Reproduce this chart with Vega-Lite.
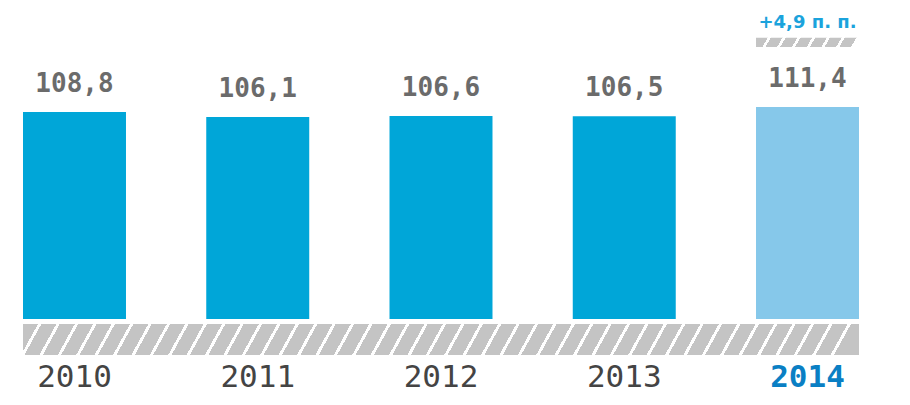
{
  "$schema": "https://vega.github.io/schema/vega-lite/v6.json",
  "width": 836,
  "height": 405,
  "autosize": "none",
  "padding": {"left": 23, "right": 51, "top": 0, "bottom": 0},
  "background": "white",
  "data": {
    "values": [
      {"year": "2010", "value": 108.8, "change": ""},
      {"year": "2011", "value": 106.1, "change": ""},
      {"year": "2012", "value": 106.6, "change": ""},
      {"year": "2013", "value": 106.5, "change": ""},
      {"year": "2014", "value": 111.4, "change": "+4,9 п. п."}
    ]
  },
  "transform": [
    {"calculate": "replace(format(datum.value, '.1f'), '.', ',')", "as": "label"}
  ],
  "layer": [
    {
      "mark": {"type": "bar"},
      "encoding": {
        "x": {"field": "year", "type": "ordinal", "axis": null,
              "scale": {"paddingInner": 0.438, "paddingOuter": 0}},
        "y": {"field": "value", "type": "quantitative", "axis": null,
              "scale": {"domain": [-45.2, 167.6], "nice": false, "zero": false}},
        "y2": {"datum": 0},
        "color": {
          "condition": {"test": "datum.year === '2014'", "value": "#86c8ea"},
          "value": "#00a6d8"
        }
      }
    },
    {
      "transform": [{"filter": "datum.year === '2010'"}],
      "mark": {
        "type": "rect",
        "fill": {
          "gradient": "linear", "x1": 0, "y1": 0, "x2": 1, "y2": 0.0204,
          "stops": [
            {"offset": 0, "color": "#c4c4c4"},
            {"offset": 0.018, "color": "#c4c4c4"}, {"offset": 0.018, "color": "#ffffff"}, {"offset": 0.022, "color": "#ffffff"}, {"offset": 0.022, "color": "#c4c4c4"},
            {"offset": 0.040, "color": "#c4c4c4"}, {"offset": 0.040, "color": "#ffffff"}, {"offset": 0.044, "color": "#ffffff"}, {"offset": 0.044, "color": "#c4c4c4"},
            {"offset": 0.062, "color": "#c4c4c4"}, {"offset": 0.062, "color": "#ffffff"}, {"offset": 0.066, "color": "#ffffff"}, {"offset": 0.066, "color": "#c4c4c4"},
            {"offset": 0.084, "color": "#c4c4c4"}, {"offset": 0.084, "color": "#ffffff"}, {"offset": 0.088, "color": "#ffffff"}, {"offset": 0.088, "color": "#c4c4c4"},
            {"offset": 0.106, "color": "#c4c4c4"}, {"offset": 0.106, "color": "#ffffff"}, {"offset": 0.110, "color": "#ffffff"}, {"offset": 0.110, "color": "#c4c4c4"},
            {"offset": 0.128, "color": "#c4c4c4"}, {"offset": 0.128, "color": "#ffffff"}, {"offset": 0.132, "color": "#ffffff"}, {"offset": 0.132, "color": "#c4c4c4"},
            {"offset": 0.150, "color": "#c4c4c4"}, {"offset": 0.150, "color": "#ffffff"}, {"offset": 0.154, "color": "#ffffff"}, {"offset": 0.154, "color": "#c4c4c4"},
            {"offset": 0.172, "color": "#c4c4c4"}, {"offset": 0.172, "color": "#ffffff"}, {"offset": 0.176, "color": "#ffffff"}, {"offset": 0.176, "color": "#c4c4c4"},
            {"offset": 0.194, "color": "#c4c4c4"}, {"offset": 0.194, "color": "#ffffff"}, {"offset": 0.198, "color": "#ffffff"}, {"offset": 0.198, "color": "#c4c4c4"},
            {"offset": 0.216, "color": "#c4c4c4"}, {"offset": 0.216, "color": "#ffffff"}, {"offset": 0.220, "color": "#ffffff"}, {"offset": 0.220, "color": "#c4c4c4"},
            {"offset": 0.238, "color": "#c4c4c4"}, {"offset": 0.238, "color": "#ffffff"}, {"offset": 0.242, "color": "#ffffff"}, {"offset": 0.242, "color": "#c4c4c4"},
            {"offset": 0.260, "color": "#c4c4c4"}, {"offset": 0.260, "color": "#ffffff"}, {"offset": 0.264, "color": "#ffffff"}, {"offset": 0.264, "color": "#c4c4c4"},
            {"offset": 0.282, "color": "#c4c4c4"}, {"offset": 0.282, "color": "#ffffff"}, {"offset": 0.286, "color": "#ffffff"}, {"offset": 0.286, "color": "#c4c4c4"},
            {"offset": 0.304, "color": "#c4c4c4"}, {"offset": 0.304, "color": "#ffffff"}, {"offset": 0.308, "color": "#ffffff"}, {"offset": 0.308, "color": "#c4c4c4"},
            {"offset": 0.326, "color": "#c4c4c4"}, {"offset": 0.326, "color": "#ffffff"}, {"offset": 0.330, "color": "#ffffff"}, {"offset": 0.330, "color": "#c4c4c4"},
            {"offset": 0.348, "color": "#c4c4c4"}, {"offset": 0.348, "color": "#ffffff"}, {"offset": 0.352, "color": "#ffffff"}, {"offset": 0.352, "color": "#c4c4c4"},
            {"offset": 0.370, "color": "#c4c4c4"}, {"offset": 0.370, "color": "#ffffff"}, {"offset": 0.374, "color": "#ffffff"}, {"offset": 0.374, "color": "#c4c4c4"},
            {"offset": 0.392, "color": "#c4c4c4"}, {"offset": 0.392, "color": "#ffffff"}, {"offset": 0.396, "color": "#ffffff"}, {"offset": 0.396, "color": "#c4c4c4"},
            {"offset": 0.414, "color": "#c4c4c4"}, {"offset": 0.414, "color": "#ffffff"}, {"offset": 0.418, "color": "#ffffff"}, {"offset": 0.418, "color": "#c4c4c4"},
            {"offset": 0.436, "color": "#c4c4c4"}, {"offset": 0.436, "color": "#ffffff"}, {"offset": 0.440, "color": "#ffffff"}, {"offset": 0.440, "color": "#c4c4c4"},
            {"offset": 0.458, "color": "#c4c4c4"}, {"offset": 0.458, "color": "#ffffff"}, {"offset": 0.462, "color": "#ffffff"}, {"offset": 0.462, "color": "#c4c4c4"},
            {"offset": 0.480, "color": "#c4c4c4"}, {"offset": 0.480, "color": "#ffffff"}, {"offset": 0.484, "color": "#ffffff"}, {"offset": 0.484, "color": "#c4c4c4"},
            {"offset": 0.502, "color": "#c4c4c4"}, {"offset": 0.502, "color": "#ffffff"}, {"offset": 0.506, "color": "#ffffff"}, {"offset": 0.506, "color": "#c4c4c4"},
            {"offset": 0.524, "color": "#c4c4c4"}, {"offset": 0.524, "color": "#ffffff"}, {"offset": 0.528, "color": "#ffffff"}, {"offset": 0.528, "color": "#c4c4c4"},
            {"offset": 0.546, "color": "#c4c4c4"}, {"offset": 0.546, "color": "#ffffff"}, {"offset": 0.550, "color": "#ffffff"}, {"offset": 0.550, "color": "#c4c4c4"},
            {"offset": 0.568, "color": "#c4c4c4"}, {"offset": 0.568, "color": "#ffffff"}, {"offset": 0.572, "color": "#ffffff"}, {"offset": 0.572, "color": "#c4c4c4"},
            {"offset": 0.590, "color": "#c4c4c4"}, {"offset": 0.590, "color": "#ffffff"}, {"offset": 0.594, "color": "#ffffff"}, {"offset": 0.594, "color": "#c4c4c4"},
            {"offset": 0.612, "color": "#c4c4c4"}, {"offset": 0.612, "color": "#ffffff"}, {"offset": 0.616, "color": "#ffffff"}, {"offset": 0.616, "color": "#c4c4c4"},
            {"offset": 0.634, "color": "#c4c4c4"}, {"offset": 0.634, "color": "#ffffff"}, {"offset": 0.638, "color": "#ffffff"}, {"offset": 0.638, "color": "#c4c4c4"},
            {"offset": 0.656, "color": "#c4c4c4"}, {"offset": 0.656, "color": "#ffffff"}, {"offset": 0.660, "color": "#ffffff"}, {"offset": 0.660, "color": "#c4c4c4"},
            {"offset": 0.678, "color": "#c4c4c4"}, {"offset": 0.678, "color": "#ffffff"}, {"offset": 0.682, "color": "#ffffff"}, {"offset": 0.682, "color": "#c4c4c4"},
            {"offset": 0.700, "color": "#c4c4c4"}, {"offset": 0.700, "color": "#ffffff"}, {"offset": 0.704, "color": "#ffffff"}, {"offset": 0.704, "color": "#c4c4c4"},
            {"offset": 0.722, "color": "#c4c4c4"}, {"offset": 0.722, "color": "#ffffff"}, {"offset": 0.726, "color": "#ffffff"}, {"offset": 0.726, "color": "#c4c4c4"},
            {"offset": 0.744, "color": "#c4c4c4"}, {"offset": 0.744, "color": "#ffffff"}, {"offset": 0.748, "color": "#ffffff"}, {"offset": 0.748, "color": "#c4c4c4"},
            {"offset": 0.766, "color": "#c4c4c4"}, {"offset": 0.766, "color": "#ffffff"}, {"offset": 0.770, "color": "#ffffff"}, {"offset": 0.770, "color": "#c4c4c4"},
            {"offset": 0.788, "color": "#c4c4c4"}, {"offset": 0.788, "color": "#ffffff"}, {"offset": 0.792, "color": "#ffffff"}, {"offset": 0.792, "color": "#c4c4c4"},
            {"offset": 0.810, "color": "#c4c4c4"}, {"offset": 0.810, "color": "#ffffff"}, {"offset": 0.814, "color": "#ffffff"}, {"offset": 0.814, "color": "#c4c4c4"},
            {"offset": 0.832, "color": "#c4c4c4"}, {"offset": 0.832, "color": "#ffffff"}, {"offset": 0.836, "color": "#ffffff"}, {"offset": 0.836, "color": "#c4c4c4"},
            {"offset": 0.854, "color": "#c4c4c4"}, {"offset": 0.854, "color": "#ffffff"}, {"offset": 0.858, "color": "#ffffff"}, {"offset": 0.858, "color": "#c4c4c4"},
            {"offset": 0.876, "color": "#c4c4c4"}, {"offset": 0.876, "color": "#ffffff"}, {"offset": 0.880, "color": "#ffffff"}, {"offset": 0.880, "color": "#c4c4c4"},
            {"offset": 0.898, "color": "#c4c4c4"}, {"offset": 0.898, "color": "#ffffff"}, {"offset": 0.902, "color": "#ffffff"}, {"offset": 0.902, "color": "#c4c4c4"},
            {"offset": 0.920, "color": "#c4c4c4"}, {"offset": 0.920, "color": "#ffffff"}, {"offset": 0.924, "color": "#ffffff"}, {"offset": 0.924, "color": "#c4c4c4"},
            {"offset": 0.942, "color": "#c4c4c4"}, {"offset": 0.942, "color": "#ffffff"}, {"offset": 0.946, "color": "#ffffff"}, {"offset": 0.946, "color": "#c4c4c4"},
            {"offset": 0.964, "color": "#c4c4c4"}, {"offset": 0.964, "color": "#ffffff"}, {"offset": 0.968, "color": "#ffffff"}, {"offset": 0.968, "color": "#c4c4c4"},
            {"offset": 0.986, "color": "#c4c4c4"}, {"offset": 0.986, "color": "#ffffff"}, {"offset": 0.990, "color": "#ffffff"}, {"offset": 0.990, "color": "#c4c4c4"},
            {"offset": 1, "color": "#c4c4c4"}
          ]
        }
      },
      "encoding": {
        "x": {"value": 0},
        "x2": {"value": "width"},
        "y": {"datum": -2.6, "type": "quantitative"},
        "y2": {"datum": -18.9}
      }
    },
    {
      "mark": {"type": "text", "font": "DejaVu Sans Mono", "fontWeight": "bold", "fontSize": 26,
               "baseline": "alphabetic", "dy": -20, "color": "#6b6b6b"},
      "encoding": {
        "x": {"field": "year", "type": "ordinal"},
        "y": {"field": "value", "type": "quantitative"},
        "text": {"field": "label"}
      }
    },
    {
      "transform": [{"filter": "datum.year !== '2014'"}],
      "mark": {"type": "text", "font": "DejaVu Sans Mono", "fontWeight": "normal", "fontSize": 31,
               "baseline": "middle", "color": "#444444"},
      "encoding": {
        "x": {"field": "year", "type": "ordinal"},
        "y": {"datum": -31, "type": "quantitative"},
        "text": {"field": "year"}
      }
    },
    {
      "transform": [{"filter": "datum.year === '2014'"}],
      "mark": {"type": "text", "font": "DejaVu Sans Mono", "fontWeight": "bold", "fontSize": 31,
               "baseline": "middle", "color": "#0a7fc4"},
      "encoding": {
        "x": {"field": "year", "type": "ordinal"},
        "y": {"datum": -31, "type": "quantitative"},
        "text": {"field": "year"}
      }
    },
    {
      "transform": [{"filter": "datum.year === '2014'"}],
      "mark": {
        "type": "rect",
        "fill": {
          "gradient": "linear", "x1": 0, "y1": 0, "x2": 1, "y2": 0.052,
          "stops": [
            {"offset": 0, "color": "#c4c4c4"},
            {"offset": 0.113, "color": "#c4c4c4"}, {"offset": 0.113, "color": "#ffffff"}, {"offset": 0.143, "color": "#ffffff"}, {"offset": 0.143, "color": "#c4c4c4"},
            {"offset": 0.256, "color": "#c4c4c4"}, {"offset": 0.256, "color": "#ffffff"}, {"offset": 0.286, "color": "#ffffff"}, {"offset": 0.286, "color": "#c4c4c4"},
            {"offset": 0.399, "color": "#c4c4c4"}, {"offset": 0.399, "color": "#ffffff"}, {"offset": 0.429, "color": "#ffffff"}, {"offset": 0.429, "color": "#c4c4c4"},
            {"offset": 0.542, "color": "#c4c4c4"}, {"offset": 0.542, "color": "#ffffff"}, {"offset": 0.572, "color": "#ffffff"}, {"offset": 0.572, "color": "#c4c4c4"},
            {"offset": 0.685, "color": "#c4c4c4"}, {"offset": 0.685, "color": "#ffffff"}, {"offset": 0.715, "color": "#ffffff"}, {"offset": 0.715, "color": "#c4c4c4"},
            {"offset": 0.828, "color": "#c4c4c4"}, {"offset": 0.828, "color": "#ffffff"}, {"offset": 0.858, "color": "#ffffff"}, {"offset": 0.858, "color": "#c4c4c4"},
            {"offset": 0.971, "color": "#c4c4c4"}, {"offset": 0.971, "color": "#ffffff"}, {"offset": 1, "color": "#ffffff"}
          ]
        }
      },
      "encoding": {
        "x": {"field": "year", "type": "ordinal"},
        "y": {"datum": 147.7, "type": "quantitative"},
        "y2": {"datum": 142.9}
      }
    },
    {
      "transform": [{"filter": "datum.year === '2014'"}],
      "mark": {"type": "text", "font": "DejaVu Sans", "fontWeight": "bold", "fontSize": 18,
               "baseline": "middle", "color": "#1ba3dc"},
      "encoding": {
        "x": {"field": "year", "type": "ordinal"},
        "y": {"datum": 155.5, "type": "quantitative"},
        "text": {"field": "change"}
      }
    }
  ],
  "config": {
    "view": {"stroke": null}
  }
}
